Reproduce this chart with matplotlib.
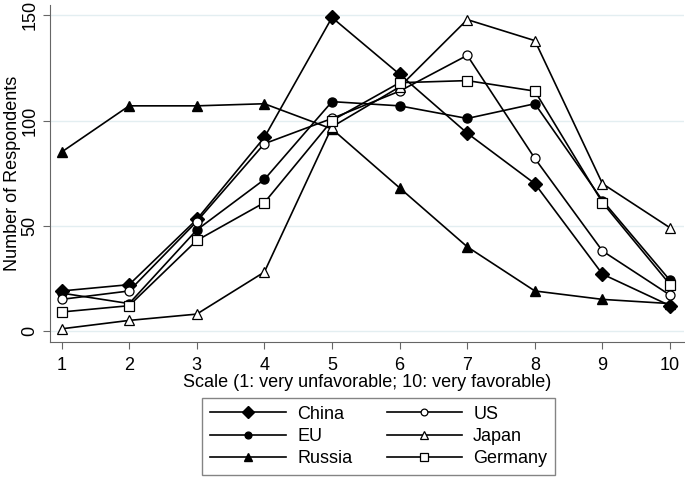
import matplotlib
matplotlib.use("Agg")
import matplotlib.pyplot as plt

plt.rcParams['font.family'] = ['Liberation Sans', 'DejaVu Sans']

scale = [1, 2, 3, 4, 5, 6, 7, 8, 9, 10]
china = [19, 22, 53, 92, 149, 122, 94, 70, 27, 12]
eu = [18, 13, 48, 72, 109, 107, 101, 108, 62, 24]
russia = [85, 107, 107, 108, 96, 68, 40, 19, 15, 13]
us = [15, 19, 52, 89, 101, 114, 131, 82, 38, 17]
japan = [1, 5, 8, 28, 97, 116, 148, 138, 70, 49]
germany = [9, 12, 43, 61, 100, 118, 119, 114, 61, 22]

fig = plt.figure(figsize=(6.85, 4.87), dpi=100)
ax = fig.add_axes([0.073, 0.298, 0.925, 0.692])

ax.plot(scale, china, color='black', lw=1.2, marker='D', ms=7.5, mfc='black', label='China')
ax.plot(scale, eu, color='black', lw=1.2, marker='o', ms=6.5, mfc='black', label='EU')
ax.plot(scale, russia, color='black', lw=1.2, marker='^', ms=7, mfc='black', label='Russia')
ax.plot(scale, us, color='black', lw=1.2, marker='o', ms=6.5, mfc='white', mew=0.9, label='US')
ax.plot(scale, japan, color='black', lw=1.2, marker='^', ms=7, mfc='white', mew=0.9, label='Japan')
ax.plot(scale, germany, color='black', lw=1.2, marker='s', ms=7.5, mfc='white', mew=0.9, label='Germany')

ax.set_xlim(0.83, 10.2)
ax.set_ylim(-5.2, 155)
ax.set_xticks(scale)
ax.set_yticks([0, 50, 100, 150])
ax.yaxis.grid(True, color='#e3eef1', lw=1)
ax.set_axisbelow(True)
for s in ['top', 'right']:
    ax.spines[s].set_visible(False)
for s in ['left', 'bottom']:
    ax.spines[s].set_color('#666666')
ax.tick_params(axis='both', colors='#666666', labelcolor='black', labelsize=13, length=5)
ax.tick_params(axis='x', pad=6)
plt.setp(ax.get_yticklabels(), rotation=90, va='center')

ax.set_xlabel('Scale (1: very unfavorable; 10: very favorable)', fontsize=13, labelpad=0)
ax.set_ylabel('Number of Respondents', fontsize=13, labelpad=0)

leg = fig.legend(loc='lower center', bbox_to_anchor=(0.553, 0.006), ncol=2, fontsize=13,
                 frameon=True, fancybox=False, edgecolor='#666666', handlelength=4.2,
                 markerscale=0.75, columnspacing=1.9, labelspacing=0.28, handletextpad=0.6,
                 borderpad=0.45)
leg.get_frame().set_linewidth(1)

fig.savefig('out.png', dpi=100)
